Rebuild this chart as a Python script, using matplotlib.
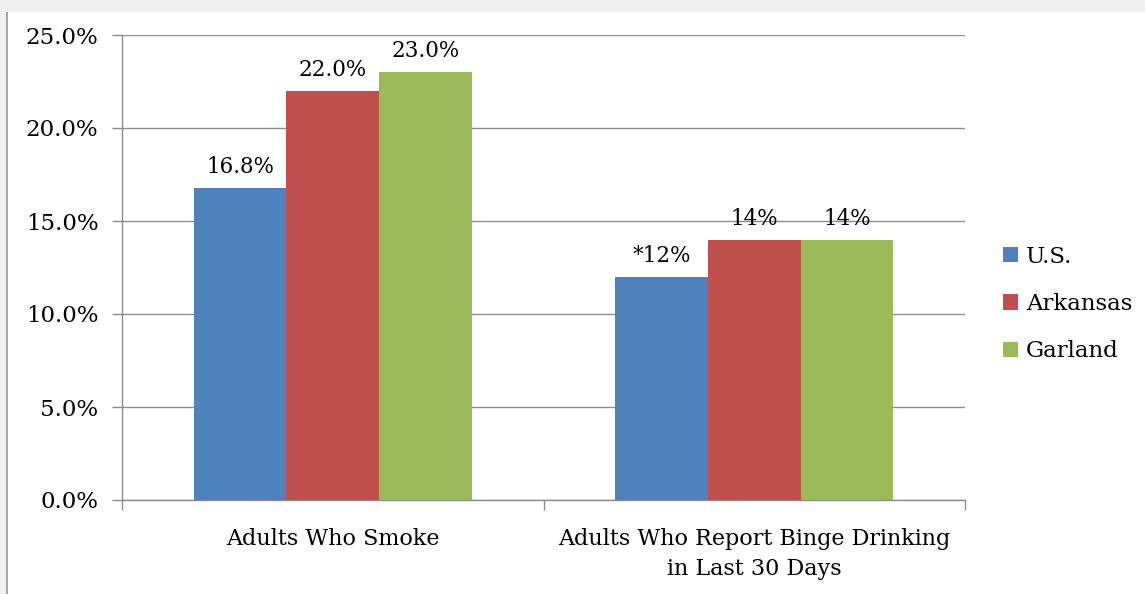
"""Adults who smoke / binge drink: U.S. vs Arkansas vs Garland county (clustered bars)."""
import matplotlib
matplotlib.use("Agg")
import matplotlib.pyplot as plt
from matplotlib.patches import Rectangle
import numpy as np

# ---- data ----
categories = ["Adults Who Smoke", "Adults Who Report Binge Drinking\nin Last 30 Days"]
series = ["U.S.", "Arkansas", "Garland"]
us = [16.8, 12.0]
arkansas = [22.0, 14.0]
garland = [23.0, 14.0]
labels_us = ["16.8%", "*12%"]
labels_ar = ["22.0%", "14%"]
labels_ga = ["23.0%", "14%"]
yticks = [0, 5, 10, 15, 20, 25]

colors = ["#4F81BD", "#C0504D", "#9BBB59"]
grid_c = "#8c8c8c"
plt.rcParams["font.family"] = "DejaVu Serif"

fig = plt.figure(figsize=(11.45, 5.94), dpi=100)
# page background bits from the document crop
fig.patches.append(Rectangle((0, 1 - 12/594), 1, 12/594, transform=fig.transFigure,
                             facecolor="#f0f0f0", edgecolor="none", zorder=0))
fig.patches.append(Rectangle((0, 0), 6/1145, 1, transform=fig.transFigure,
                             facecolor="#f0f0f0", edgecolor="none", zorder=0))
fig.patches.append(Rectangle((6/1145, 0), 2/1145, 1 - 12/594, transform=fig.transFigure,
                             facecolor="#a6a6a6", edgecolor="none", zorder=0))

ax = fig.add_axes([122/1145, 1 - 500/594, (965-122)/1145, (500-35)/594])

x = np.arange(len(categories))
w = 0.22
for i, (vals, labs) in enumerate([(us, labels_us), (arkansas, labels_ar), (garland, labels_ga)]):
    bars = ax.bar(x + (i - 1)*w, vals, width=w, color=colors[i], label=series[i], zorder=3)
    for b, lab in zip(bars, labs):
        ax.annotate(lab, (b.get_x() + b.get_width()/2, b.get_height()),
                    xytext=(0, 7), textcoords="offset points",
                    ha="center", va="bottom", fontsize=15.5)

ax.set_xlim(-0.5, 1.5)
ax.set_ylim(0, 25)
ax.set_yticks(yticks)
ax.set_yticklabels([f"{v:.1f}%" for v in yticks], fontsize=16.5)
ax.yaxis.grid(True, color=grid_c, linewidth=1.0, zorder=0)
ax.set_xticks(x)
ax.set_xticklabels(categories, fontsize=16, linespacing=1.5)
ax.set_xticks([-0.5, 0.5, 1.5], minor=True)
ax.tick_params(axis="x", which="major", length=0, pad=20)
ax.tick_params(axis="x", which="minor", length=7, color=grid_c, width=1.0)
ax.tick_params(axis="y", length=7, color=grid_c, width=1.0, pad=10)
for s in ["top", "right"]:
    ax.spines[s].set_visible(False)
for s in ["left", "bottom"]:
    ax.spines[s].set_color(grid_c)
    ax.spines[s].set_linewidth(1.0)

fig.legend(loc="center left", bbox_to_anchor=(994/1145, 1 - 304/594), frameon=False,
           fontsize=16.5, handlelength=0.65, handleheight=0.65, handletextpad=0.35,
           labelspacing=1.1, borderaxespad=0)

fig.savefig("out.png", dpi=100)
